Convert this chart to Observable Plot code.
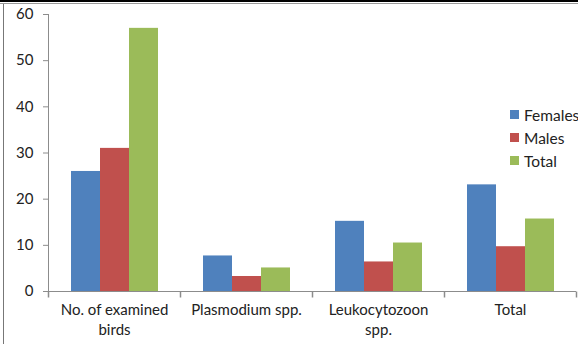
<!DOCTYPE html>
<html>
<head>
<meta charset="utf-8">
<script src="https://cdn.jsdelivr.net/npm/d3@7"></script>
<script src="https://cdn.jsdelivr.net/npm/@observablehq/plot@0.6"></script>
<style>
  html, body { margin: 0; padding: 0; background: #fff; overflow: hidden; }
  #wrap { position: relative; width: 578px; height: 344px; font-family: Lato, "Open Sans", sans-serif; }
  .legend { position: absolute; left: 510px; top: 103px; font-size: 15.5px; color: #222; }
  .legend .item { display: flex; align-items: center; height: 23px; white-space: nowrap; }
  .legend .sw { width: 9px; height: 9px; margin-right: 5px; }
  .bt1 { position: absolute; left: 0; top: 0; width: 578px; height: 2px; background: #000; }
  .bt2 { position: absolute; left: 0; top: 3px; width: 578px; height: 1px; background: #999; }
  .bl { position: absolute; left: 3px; top: 4px; width: 1px; height: 340px; background: #777; }
</style>
</head>
<body>
<div id="wrap"></div>
<script>
const categories = ["No. of examined birds", "Plasmodium spp.", "Leukocytozoon spp.", "Total"];
const categoryLabels = ["No. of examined\nbirds", "Plasmodium spp.", "Leukocytozoon\nspp.", "Total"];
const series = ["Females", "Males", "Total"];
const females = [26, 7.7, 15.2, 23.1];
const males = [31, 3.25, 6.4, 9.7];
const totals = [57, 5.1, 10.5, 15.7];
const yTicks = [0, 10, 20, 30, 40, 50, 60];
const colors = ["#4F81BD", "#C0504D", "#9BBB59"];

const valuesBySeries = [females, males, totals];
const rows = [];
categories.forEach((c, i) => {
  series.forEach((s, j) => rows.push({category: c, series: s, value: valuesBySeries[j][i]}));
});
const labelOf = new Map(categories.map((c, i) => [c, categoryLabels[i]]));

const tickSym = {draw(ctx) { ctx.moveTo(0, 0); ctx.lineTo(0, 6); }};
const axisGray = "#8c8c8c";

const chart = Plot.plot({
  width: 578,
  height: 344,
  marginLeft: 48,
  marginRight: 2,
  marginTop: 14,
  marginBottom: 53,
  style: {fontFamily: "Lato, 'Open Sans', sans-serif", fontSize: "15px", color: "#222", background: "transparent"},
  fx: {domain: categories, padding: 0, label: null},
  x: {domain: series, paddingInner: 0, paddingOuter: 0.74, axis: null},
  y: {domain: [0, 60], axis: null},
  color: {domain: series, range: colors},
  marks: [
    Plot.barY(rows, {fx: "category", x: "series", y: "value", fill: "series"}),
    Plot.ruleY([0], {stroke: axisGray}),
    Plot.dot(categories, {fx: d => d, frameAnchor: "bottom-left", symbol: tickSym, stroke: axisGray, fill: "none", r: 4}),
    Plot.dot([categories[categories.length - 1]], {fx: d => d, frameAnchor: "bottom-right", symbol: tickSym, stroke: axisGray, fill: "none", r: 4}),
    Plot.frame({anchor: "left", facetAnchor: "left", stroke: axisGray}),
    Plot.axisY({ticks: yTicks, tickSize: 5, tickPadding: 10, stroke: axisGray, fill: "#222", label: null}),
    Plot.axisFx({anchor: "bottom", tickSize: 0, tickPadding: 10, tickFormat: d => labelOf.get(d), lineHeight: 1.3, fill: "#222", label: null})
  ]
});

const wrap = document.getElementById("wrap");
wrap.appendChild(chart);
chart.style.position = "absolute";
chart.style.left = "0";
chart.style.top = "0";

["bt1", "bt2", "bl"].forEach(cls => {
  const d = document.createElement("div");
  d.className = cls;
  wrap.appendChild(d);
});

const legend = document.createElement("div");
legend.className = "legend";
series.forEach((s, i) => {
  const item = document.createElement("div");
  item.className = "item";
  const sw = document.createElement("span");
  sw.className = "sw";
  sw.style.background = colors[i];
  const t = document.createElement("span");
  t.textContent = s;
  item.appendChild(sw);
  item.appendChild(t);
  legend.appendChild(item);
});
wrap.appendChild(legend);
</script>
</body>
</html>
